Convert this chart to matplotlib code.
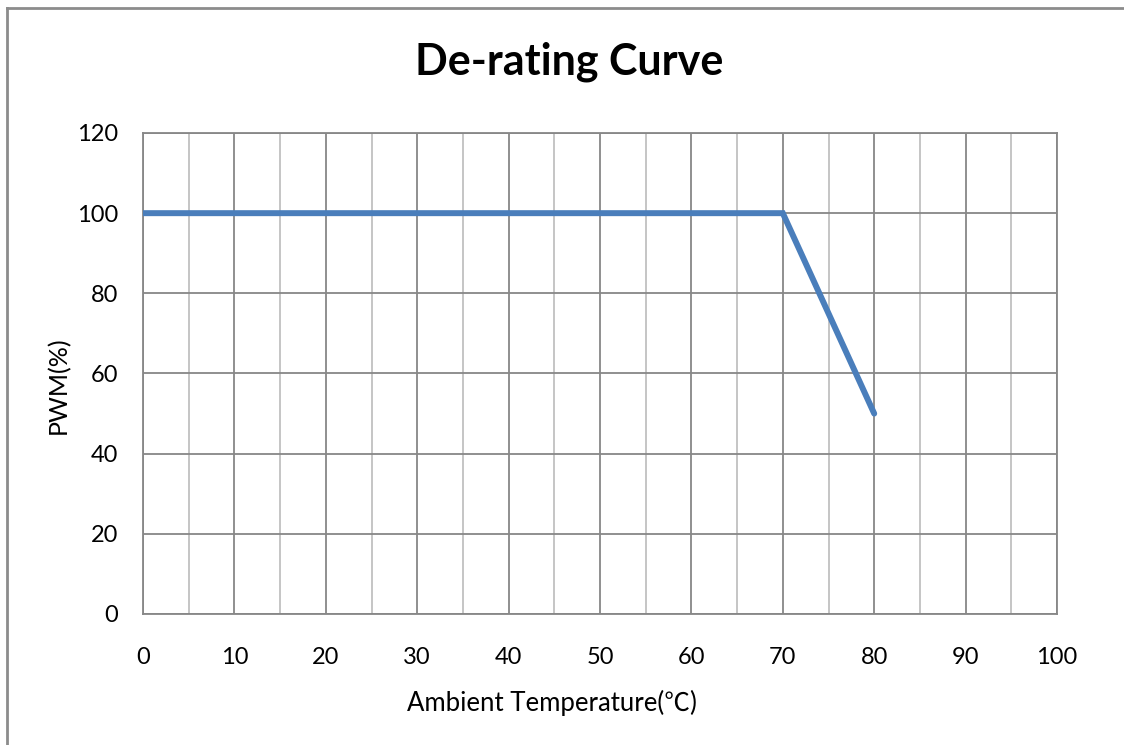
import matplotlib.pyplot as plt
from matplotlib.lines import Line2D

temp = [0, 70, 80]
pwm = [100, 100, 50]
x_ticks = [0, 10, 20, 30, 40, 50, 60, 70, 80, 90, 100]
x_minor = [5, 15, 25, 35, 45, 55, 65, 75, 85, 95]
y_ticks = [0, 20, 40, 60, 80, 100, 120]

plt.rcParams['font.family'] = ['Lato', 'Noto Sans CJK SC', 'DejaVu Sans']

fig = plt.figure(figsize=(11.24, 7.45), dpi=100)
ax = fig.add_axes([143 / 1124, 131 / 745, 914 / 1124, 481 / 745])

ax.plot(temp, pwm, color='#4A7EBB', lw=4.3, solid_capstyle='round', solid_joinstyle='miter', zorder=3)

ax.set_xlim(0, 100)
ax.set_ylim(0, 120)
ax.set_xticks(x_ticks)
ax.set_xticks(x_minor, minor=True)
ax.set_yticks(y_ticks)
ax.grid(which='major', color='#878787', lw=1.3)
ax.grid(which='minor', axis='x', color='#C0C0C0', lw=1.3)
ax.tick_params(which='both', length=0, labelsize=17)
ax.tick_params(axis='x', pad=24)
ax.tick_params(axis='y', pad=18)
for s in ax.spines.values():
    s.set_color('#878787')
    s.set_linewidth(1.3)

fig.text(569 / 1124, 1 - 62 / 745, 'De-rating Curve', ha='center', va='center',
         fontsize=31, fontweight='bold')
fig.text(552 / 1124, 1 - 703 / 745, 'Ambient Temperature(℃)', ha='center', va='center',
         fontsize=18.5)
fig.text(58 / 1124, 1 - 385 / 745, 'PWM(%)', ha='center', va='center', rotation=90, fontsize=18)

# outer chart border (only top and left edges are in view)
fig.add_artist(Line2D([7 / 1124, 7 / 1124], [0, 1 - 8 / 745], color='#8C8C8C', lw=2))
fig.add_artist(Line2D([7 / 1124, 1], [1 - 8 / 745, 1 - 8 / 745], color='#8C8C8C', lw=2))

fig.savefig('out.png', dpi=100)
